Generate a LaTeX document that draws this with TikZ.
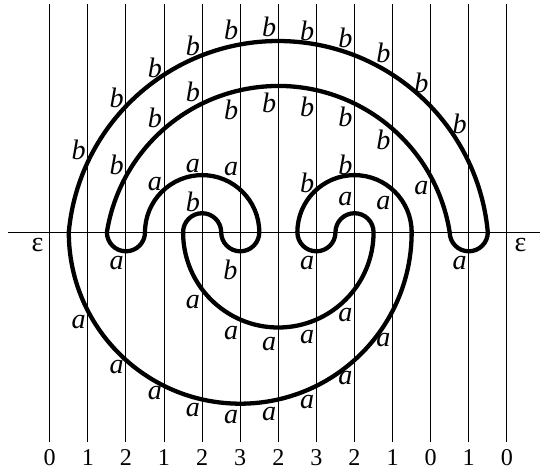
\documentclass[tikz,border=0pt]{standalone}
\usepackage{fontspec}
\setmainfont{Liberation Serif}
\usetikzlibrary{positioning}

\tikzset{
  gridline/.style={line width=0.7pt},
  strand/.style={line width=3.2pt,line join=round},
  lab/.style={font=\fontsize{21}{21}\selectfont\itshape,inner sep=0pt},
  num/.style={font=\fontsize{18}{18}\selectfont,inner sep=0pt},
}

\begin{document}
\begin{tikzpicture}[line cap=round]
  \useasboundingbox (-1.305,-6.213) rectangle (12.87,6.097);
  % vertical lines and the axis
  \foreach \k in {0,...,12}
    \draw[gridline,line cap=butt] (\k,-5.5) -- (\k,6);
  \draw[gridline,line cap=butt] (-1.1,0) -- (12.9,0);
  % the closed curve
  \draw[strand] (0.5,0) coordinate (start)
    arc[start angle=174.775,end angle=5.225,radius=5.523]
    arc[start angle=0,end angle=-180,radius=0.5]
    arc[start angle=9.04,end angle=170.96,radius=4.556]
    arc[start angle=180,end angle=360,radius=0.5]
    arc[start angle=180,end angle=0,radius=1.5]
    arc[start angle=0,end angle=-180,radius=0.5]
    arc[start angle=0,end angle=180,radius=0.5]
    arc[start angle=180,end angle=360,radius=2.5]
    arc[start angle=0,end angle=180,radius=0.5]
    arc[start angle=0,end angle=-180,radius=0.5]
    arc[start angle=180,end angle=0,radius=1.5]
    arc[start angle=0,end angle=-180,radius=4.5]
    -- cycle;
  % letters on the outer upper arc
  \foreach \k/\y in {1/2.16,2/3.517,3/4.304,4/4.903,5/5.31,6/5.396,7/5.291,8/5.092,9/4.698,10/3.911,11/2.843}
    \node[lab] (ob\k) at (\k-0.24,\y) {b};
  % second upper arc
  \foreach \k/\y in {2/1.78,3/3.013,4/3.69,5/3.21,6/3.402,7/3.297,8/3.026,9/2.423}
    \node[lab] (ib\k) at (\k-0.24,\y) {b};
  \node[lab] (ia10) at (9.76,1.155) {a};
  % middle arcs
  \foreach \k/\y in {3/1.268,4/1.732,5/1.648}
    \node[lab] (ma\k) at (\k-0.24,\y) {a};
  \node[lab] (mb4) at (3.76,0.803) {b};
  \foreach \k/\y in {7/1.307,8/1.78}
    \node[lab] (mb\k) at (\k-0.24,\y) {b};
  \node[lab] (ma9) at (8.76,0.761) {a};
  \node[lab] (ma8) at (7.76,0.861) {a};
  % under the axis
  \foreach \k in {2,7,11}
    \node[lab] (ua\k) at (\k-0.24,-0.814) {a};
  \node[lab] (ub5) at (4.74,-0.99) {b};
  \foreach \k/\y in {4/-1.822,5/-2.651,6/-2.932,7/-2.74,8/-2.171}
    \node[lab] (la\k) at (\k-0.24,\y) {a};
  \foreach \k/\y in {1/-2.346,2/-3.528,3/-4.226,4/-4.664,5/-4.84,6/-4.769,7/-4.446,8/-3.832,9/-2.827}
    \node[lab] (ba\k) at (\k-0.24,\y) {a};
  % counts and ends
  \foreach \k/\n in {0/0,1/1,2/2,3/1,4/2,5/3,6/2,7/3,8/2,9/1,10/0,11/1,12/0}
    \node[num] (n\k) at (\k,-5.91) {\n};
  \node[num,font=\fontsize{21}{21}\selectfont] (epsl) at (-0.32,-0.34) {ε};
  \node[num,font=\fontsize{21}{21}\selectfont] (epsr) at (12.36,-0.34) {ε};
\end{tikzpicture}
\end{document}
